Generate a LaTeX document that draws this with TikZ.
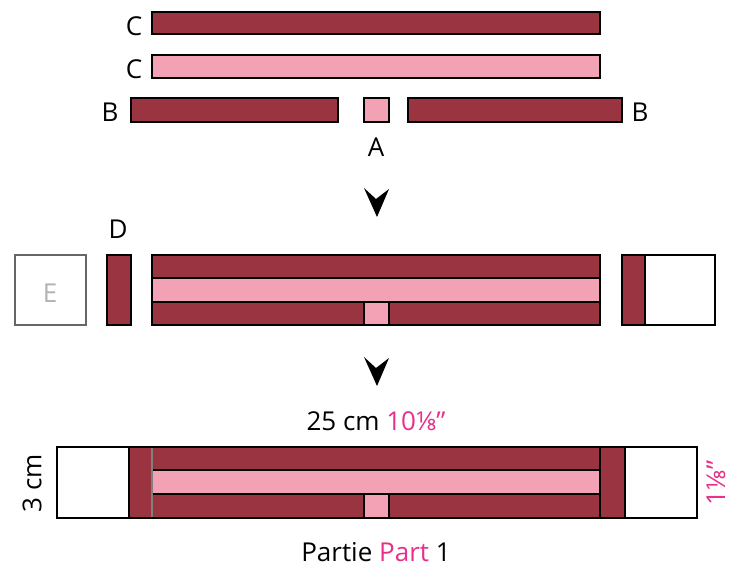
\documentclass[tikz,border=0pt]{standalone}
\usepackage{fontspec}
\setmainfont{Open Sans}
\definecolor{darkr}{HTML}{9A3440}
\definecolor{pinkr}{HTML}{F2A2B4}
\definecolor{mag}{HTML}{E8308A}
\begin{document}
\begin{tikzpicture}[x=1pt,y=-1pt,
  dk/.style={fill=darkr,draw=black,line width=1.3pt},
  pk/.style={fill=pinkr,draw=black,line width=1.3pt},
  wh/.style={fill=white,draw=black,line width=1.3pt},
  lbl/.style={font=\fontsize{26}{30}\selectfont,text=black,inner sep=0pt,anchor=base},
  rlbl/.style={font=\fontsize{26}{30}\selectfont,text=black,inner sep=0pt,rotate=90},
  chev/.style={fill=black}]
\useasboundingbox (0,0) rectangle (731,569);
% top strips
\draw[dk] (152,12) rectangle (600,34);
\draw[pk] (152,55) rectangle (600,78);
\draw[dk] (131,98) rectangle (338,122);
\draw[pk] (364,98) rectangle (389,122);
\draw[dk] (408,98) rectangle (622,122);
\node[lbl] (c1) at (134,36) {C};
\node[lbl] (c2) at (134,79) {C};
\node[lbl] (b1) at (110,122) {B};
\node[lbl] (b2) at (640,122) {B};
\node[lbl] (a) at (376,157) {A};
% arrow 1
\fill[chev] (364,188) -- (377,217) -- (389,189) -- (376,199) -- cycle;
% middle row
\draw[wh,draw=gray!80!black] (15,255) rectangle (86,325);
\node[lbl,text=gray!60] (e) at (50,303) {E};
\draw[dk] (107,255) rectangle (131,325);
\node[lbl] (d) at (118,239) {D};
\draw[dk] (152,255) rectangle (600,278);
\draw[pk] (152,278) rectangle (600,302);
\draw[dk] (152,302) rectangle (600,325);
\draw[pk] (364,302) rectangle (389,325);
\draw[dk] (622,255) rectangle (645,325);
\draw[wh] (645,255) rectangle (715,325);
% arrow 2
\fill[chev] (364,357) -- (377,386) -- (389,358) -- (376,368) -- cycle;
% dimension label
\node[lbl] (w) at (376,430) {25 cm \textcolor{mag}{10⅛"}};
% bottom block
\draw[wh] (57,447) rectangle (697,518);
\draw[dk] (129,447) rectangle (152,518);
\draw[dk] (600,447) rectangle (625,518);
\draw[dk] (152,447) rectangle (600,470);
\draw[pk] (152,470) rectangle (600,494);
\draw[dk] (152,494) rectangle (600,518);
\draw[pk] (364,494) rectangle (389,518);
\draw[gray,line width=1.5pt] (152,447) -- (152,518);
\draw[black,line width=1.3pt] (57,447) rectangle (697,518);
\node[rlbl] (h) at (32,483) {3 cm};
\node[rlbl,text=mag] (hi) at (716,483) {1⅛"};
\node[lbl] (p) at (376,561) {Partie \textcolor{mag}{Part} 1};
\end{tikzpicture}
\end{document}
